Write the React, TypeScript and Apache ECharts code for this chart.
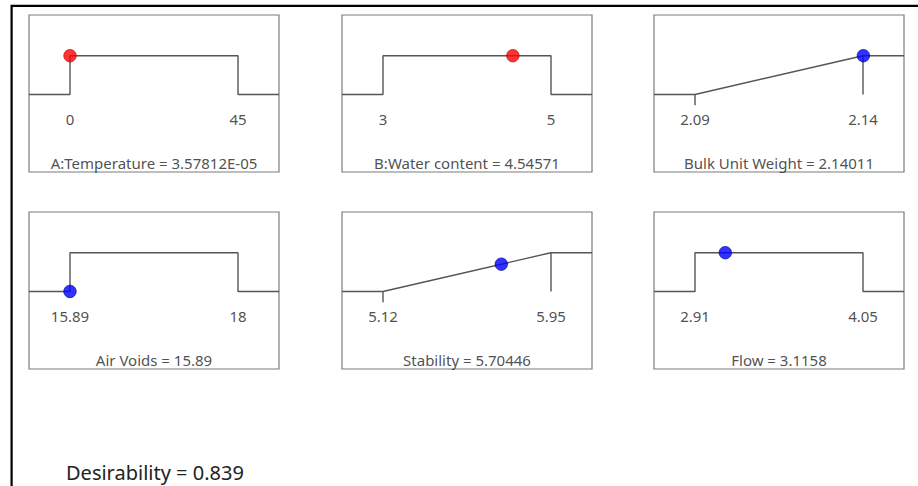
import React, { useEffect, useRef } from "react";
import * as echarts from "echarts";

// ---- data ----
const panelNames = ["A:Temperature", "B:Water content", "Bulk Unit Weight", "Air Voids", "Stability", "Flow"];
const lowLimits = [0, 3, 2.09, 15.89, 5.12, 2.91];
const highLimits = [45, 5, 2.14, 18, 5.95, 4.05];
const lowLabels = ["0", "3", "2.09", "15.89", "5.12", "2.91"];
const highLabels = ["45", "5", "2.14", "18", "5.95", "4.05"];
const currentValues = [3.57812e-5, 4.54571, 2.14011, 15.89, 5.70446, 3.1158];
const currentLabels = ["3.57812E-05", "4.54571", "2.14011", "15.89", "5.70446", "3.1158"];
const desirabilities = [1, 1, 1, 0, 0.704, 1];
const goals = ["range", "range", "max", "range", "max", "range"];
const isFactor = [true, true, false, false, false, false];
const overallDesirability = "0.839";

// ---- layout ----
const colLefts = [29, 342, 654];
const rowTops = [15, 212];
const boxW = 250;
const boxH = 157;
const padPx = 41;
const innerPx = boxW - 2 * padPx;
const yMin = -2;
const yMax = 2.05;
const tickLabelY = -0.63;
const titleY = -1.77;
const FONT = "'Noto Sans', 'Open Sans', sans-serif";
const LINE = "#555555";
const TEXT = "#222";

function buildOption() {
  const grid: any[] = [];
  const xAxis: any[] = [];
  const yAxis: any[] = [];
  const series: any[] = [];

  panelNames.forEach((name, i) => {
    const col = i % 3;
    const row = Math.floor(i / 3);
    grid.push({
      left: colLefts[col],
      top: rowTops[row],
      width: boxW,
      height: boxH,
      show: true,
      borderColor: "#7c7c7c",
      borderWidth: 1.2,
      backgroundColor: "transparent",
      containLabel: false,
    });
    const lo = lowLimits[i];
    const hi = highLimits[i];
    const pad = ((hi - lo) * padPx) / innerPx;
    const xmin = lo - pad;
    const xmax = hi + pad;
    xAxis.push({ gridIndex: i, type: "value", min: xmin, max: xmax, show: false });
    yAxis.push({ gridIndex: i, type: "value", min: yMin, max: yMax, show: false });

    const lineStyle = { color: LINE, width: 1.4 };
    const base = {
      type: "line",
      xAxisIndex: i,
      yAxisIndex: i,
      symbol: "none",
      lineStyle,
      silent: true,
      z: 2,
    };
    if (goals[i] === "range") {
      series.push({
        ...base,
        data: [
          [xmin, 0],
          [lo, 0],
          [lo, 1],
          [hi, 1],
          [hi, 0],
          [xmax, 0],
        ],
      });
    } else {
      series.push({
        ...base,
        data: [
          [xmin, 0],
          [lo, 0],
          [hi, 1],
          [xmax, 1],
        ],
      });
      series.push({ ...base, data: [[hi, 1], [hi, 0]] });
      series.push({ ...base, data: [[lo, 0], [lo, -0.28]] });
    }

    // tick labels
    series.push({
      type: "scatter",
      xAxisIndex: i,
      yAxisIndex: i,
      symbolSize: 1,
      itemStyle: { color: "transparent" },
      silent: true,
      data: [
        { value: [lo, tickLabelY], name: lowLabels[i] },
        { value: [hi, tickLabelY], name: highLabels[i] },
      ],
      label: {
        show: true,
        position: "inside",
        formatter: (p: any) => p.name,
        color: TEXT,
        fontSize: 15,
        fontFamily: FONT,
      },
    });

    // title
    series.push({
      type: "scatter",
      xAxisIndex: i,
      yAxisIndex: i,
      symbolSize: 1,
      itemStyle: { color: "transparent" },
      silent: true,
      data: [{ value: [(xmin + xmax) / 2, titleY], name: `${name} = ${currentLabels[i]}` }],
      label: {
        show: true,
        position: "inside",
        formatter: (p: any) => p.name,
        color: TEXT,
        fontSize: 15,
        fontFamily: FONT,
      },
    });

    // current point
    series.push({
      type: "scatter",
      xAxisIndex: i,
      yAxisIndex: i,
      symbol: "circle",
      symbolSize: 12.5,
      z: 5,
      itemStyle: isFactor[i]
        ? { color: "#ff0000", borderColor: "#b00000", borderWidth: 0.8 }
        : { color: "#0000ff", borderColor: "#000090", borderWidth: 0.8 },
      data: [[currentValues[i], desirabilities[i]]],
    });
  });

  return {
    animation: false,
    backgroundColor: "#ffffff",
    grid,
    xAxis,
    yAxis,
    series,
    graphic: [
      {
        type: "rect",
        shape: { x: 11.6, y: 5.8, width: 960, height: 540 },
        style: { fill: "none", stroke: "#000", lineWidth: 2.2 },
        silent: true,
      },
      {
        type: "text",
        left: 66,
        top: 462,
        style: {
          text: `Desirability = ${overallDesirability}`,
          fill: TEXT,
          fontSize: 20,
          fontFamily: FONT,
        },
      },
    ],
  };
}

export default function App() {
  const ref = useRef<HTMLDivElement>(null);
  useEffect(() => {
    if (!ref.current) return;
    const chart = echarts.init(ref.current, undefined, { renderer: "svg" });
    chart.setOption(buildOption() as any);
    return () => chart.dispose();
  }, []);
  return (
    <div
      ref={ref}
      style={{ position: "fixed", left: 0, top: 0, width: 918, height: 486 }}
    />
  );
}
